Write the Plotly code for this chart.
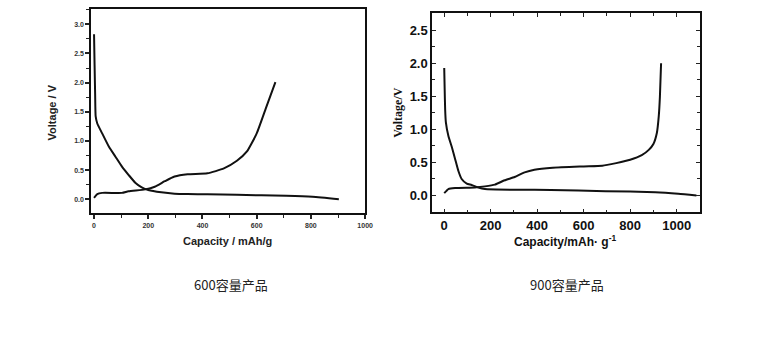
import plotly.graph_objects as go

# ---- Data: left chart (600容量产品) ----
left_dis_cap = [0, 2, 4, 6, 12, 30, 55, 79, 103, 127, 152, 176, 200, 248, 297, 345, 418, 527, 709, 806, 903]
left_dis_v = [2.83, 2.3, 1.8, 1.42, 1.30, 1.13, 0.90, 0.73, 0.56, 0.42, 0.285, 0.205, 0.16, 0.12, 0.096, 0.09, 0.087, 0.077, 0.06, 0.042, 0.0]
left_chg_cap = [0, 12, 30, 103, 127, 188, 224, 261, 297, 345, 418, 479, 527, 564, 600, 636, 669]
left_chg_v = [0.025, 0.09, 0.11, 0.11, 0.137, 0.17, 0.216, 0.31, 0.39, 0.43, 0.445, 0.53, 0.66, 0.82, 1.13, 1.59, 2.01]

# ---- Data: right chart (900容量产品) ----
right_dis_cap = [0, 2, 4, 7, 18, 33, 47, 61, 75, 97, 118, 147, 175, 317, 459, 694, 908, 1007, 1085]
right_dis_v = [1.93, 1.6, 1.3, 1.11, 0.90, 0.73, 0.55, 0.37, 0.25, 0.18, 0.16, 0.12, 0.098, 0.087, 0.085, 0.066, 0.05, 0.026, 0.0]
right_chg_cap = [0, 18, 47, 132, 175, 218, 260, 303, 346, 388, 467, 600, 680, 740, 800, 850, 880, 900, 915, 923, 928, 933]
right_chg_v = [0.036, 0.098, 0.113, 0.123, 0.138, 0.164, 0.23, 0.28, 0.35, 0.39, 0.42, 0.44, 0.45, 0.49, 0.54, 0.61, 0.69, 0.78, 0.95, 1.2, 1.5, 2.0]

left_yticks = [0.0, 0.5, 1.0, 1.5, 2.0, 2.5, 3.0]
left_xticks = [0, 200, 400, 600, 800, 1000]
right_yticks = [0.0, 0.5, 1.0, 1.5, 2.0, 2.5]
right_xticks = [0, 200, 400, 600, 800, 1000]

captions = ["600容量产品", "900容量产品"]

W, H = 765, 357
fig = go.Figure()

line_style = dict(color="#111111", width=2, shape="spline", smoothing=0.5)
fig.add_trace(go.Scatter(x=left_dis_cap, y=left_dis_v, mode="lines", line=line_style, xaxis="x", yaxis="y", showlegend=False))
fig.add_trace(go.Scatter(x=left_chg_cap, y=left_chg_v, mode="lines", line=line_style, xaxis="x", yaxis="y", showlegend=False))
fig.add_trace(go.Scatter(x=right_dis_cap, y=right_dis_v, mode="lines", line=line_style, xaxis="x2", yaxis="y2", showlegend=False))
fig.add_trace(go.Scatter(x=right_chg_cap, y=right_chg_v, mode="lines", line=line_style, xaxis="x2", yaxis="y2", showlegend=False))

def px_x(p):
    return p / W

def px_y(p):
    return 1 - p / H

left_font = dict(family="Liberation Sans", size=7, color="#333333")
right_font = dict(family="Liberation Sans", size=13, color="#111111")

fig.update_layout(
    width=W, height=H,
    margin=dict(l=0, r=0, t=0, b=0),
    paper_bgcolor="white", plot_bgcolor="white",
    xaxis=dict(
        domain=[px_x(92.3), px_x(369)], anchor="y",
        range=[-10, 1000], tickvals=left_xticks,
        ticktext=["<b>%d</b>" % v for v in left_xticks],
        ticks="outside", ticklen=4, tickwidth=1.5, tickcolor="#222",
        minor=dict(dtick=100, ticks="outside", ticklen=3, tickwidth=1.2, tickcolor="#222"),
        showline=True, linecolor="#111", linewidth=2, mirror=True,
        showgrid=False, zeroline=False, tickfont=left_font,
    ),
    yaxis=dict(
        domain=[px_y(213.3), px_y(9.3)], anchor="x",
        range=[-0.24, 3.257], tickvals=left_yticks,
        ticktext=["<b>%.1f</b>" % v for v in left_yticks],
        ticks="outside", ticklen=4, tickwidth=1.5, tickcolor="#222",
        minor=dict(dtick=0.25, tick0=0, ticks="outside", ticklen=3, tickwidth=1.2, tickcolor="#222"),
        showline=True, linecolor="#111", linewidth=2, mirror=True,
        showgrid=False, zeroline=False, tickfont=left_font,
    ),
    xaxis2=dict(
        domain=[px_x(436.7), px_x(707.3)], anchor="y2",
        range=[-52, 1100], tickvals=right_xticks,
        ticktext=["<b>%d</b>" % v for v in right_xticks],
        ticks="inside", ticklen=4, tickwidth=1.2, tickcolor="#222",
        minor=dict(dtick=100, tick0=0, ticks="inside", ticklen=3, tickwidth=1, tickcolor="#222"),
        showline=True, linecolor="#111", linewidth=1.6, mirror="ticks",
        showgrid=False, zeroline=False, tickfont=right_font,
    ),
    yaxis2=dict(
        domain=[px_y(212.3), px_y(13.3)], anchor="x2",
        range=[-0.254, 2.756], tickvals=right_yticks,
        ticktext=["<b>%.1f</b>" % v for v in right_yticks],
        ticks="inside", ticklen=4, tickwidth=1.2, tickcolor="#222",
        minor=dict(dtick=0.25, tick0=0, ticks="inside", ticklen=3, tickwidth=1, tickcolor="#222"),
        showline=True, linecolor="#111", linewidth=1.6, mirror="ticks",
        showgrid=False, zeroline=False, tickfont=right_font,
    ),
)

ann = []
ann.append(dict(text="<b>Voltage / V</b>", x=px_x(53), y=px_y(112), xref="paper", yref="paper",
                textangle=-90, showarrow=False, font=dict(family="Liberation Sans", size=11, color="#222"),
                xanchor="center", yanchor="middle"))
ann.append(dict(text="<b>Capacity / mAh/g</b>", x=px_x(230), y=px_y(241), xref="paper", yref="paper",
                showarrow=False, font=dict(family="Liberation Sans", size=11, color="#222"),
                xanchor="center", yanchor="middle"))
ann.append(dict(text="<b>Voltage/V</b>", x=px_x(402), y=px_y(112), xref="paper", yref="paper",
                textangle=-90, showarrow=False, font=dict(family="Liberation Serif", size=12, color="#111"),
                xanchor="center", yanchor="middle"))
ann.append(dict(text="<b>Capacity/mAh· g<sup>-1</sup></b>", x=px_x(571), y=px_y(241), xref="paper", yref="paper",
                showarrow=False, font=dict(family="Liberation Sans", size=12, color="#111"),
                xanchor="center", yanchor="middle"))
ann.append(dict(text=captions[0], x=px_x(233), y=px_y(284), xref="paper", yref="paper",
                showarrow=False, font=dict(family="Noto Sans CJK SC", size=13, color="#222"),
                xanchor="center", yanchor="middle"))
ann.append(dict(text=captions[1], x=px_x(573), y=px_y(284), xref="paper", yref="paper",
                showarrow=False, font=dict(family="Noto Sans CJK SC", size=13, color="#222"),
                xanchor="center", yanchor="middle"))
fig.update_layout(annotations=ann)

fig.write_html("out.html", config={"displayModeBar": False},
               post_script="document.body.style.margin='0';document.body.style.overflow='hidden';")
